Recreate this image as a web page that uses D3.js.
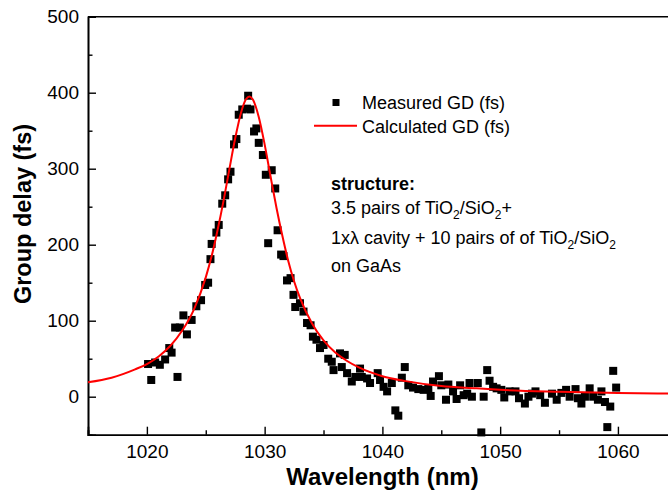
<!DOCTYPE html>
<html>
<head>
<meta charset="utf-8">
<script src="https://cdn.jsdelivr.net/npm/d3@7"></script>
<style>
  html, body { margin: 0; padding: 0; background: #fff; }
  svg { display: block; }
  text { font-family: "Liberation Sans", Arial, sans-serif; fill: #000; }
</style>
</head>
<body>
<svg id="chart" width="668" height="494"></svg>
<script>
// ---- Data ----
const measuredWavelength = [
  1020.1, 1020.37, 1020.7, 1021.1, 1021.55, 1021.9, 1022.1, 1022.4, 1022.6, 1022.8,
  1023.1, 1023.4, 1023.8, 1024.2, 1024.6, 1024.95, 1025.2, 1025.4, 1025.5, 1025.9,
  1026.1, 1026.4, 1026.65, 1026.9, 1027.1, 1027.4, 1027.6, 1027.8, 1028.1, 1028.5,
  1028.6, 1028.8, 1029.1, 1029.3, 1029.5, 1029.85, 1030.1, 1030.3, 1030.6, 1030.9,
  1031.1, 1031.4, 1031.6, 1031.9, 1032.2, 1032.45, 1032.6, 1033.0, 1033.3, 1033.6,
  1033.9, 1034.1, 1034.4, 1034.7, 1035.0, 1035.4, 1035.7, 1035.85, 1036.4, 1036.55,
  1036.8, 1037.0, 1037.4, 1037.7, 1038.1, 1038.25, 1038.7, 1038.95, 1039.6, 1039.8,
  1040.1, 1040.4, 1040.8, 1041.1, 1041.35, 1041.65, 1041.9, 1042.2, 1042.6, 1043.05,
  1043.5, 1043.9, 1044.1, 1044.3, 1044.8, 1045.0, 1045.4, 1045.6, 1046.0, 1046.3,
  1046.6, 1046.9, 1047.2, 1047.4, 1047.6, 1048.1, 1048.4, 1048.6, 1048.9, 1049.1,
  1049.4, 1049.7, 1050.1, 1050.35, 1050.8, 1051.3, 1051.6, 1052.1, 1052.4, 1052.7,
  1053.0, 1053.4, 1053.8, 1054.4, 1054.8, 1055.2, 1055.6, 1055.9, 1056.4, 1056.6,
  1056.9, 1057.2, 1057.6, 1057.9, 1058.3, 1058.6, 1058.9, 1059.1, 1059.35, 1059.6,
  1059.85
];
const measuredGD = [
  43, 22, 45, 42, 49, 64, 58, 91, 26, 91,
  107, 82, 101, 119, 127, 147, 150, 181, 201, 216,
  226, 254, 265, 286, 296, 332, 339, 371, 378, 379,
  396, 378, 349, 353, 334, 318, 292, 202, 298, 274,
  219, 187, 185, 153, 156, 134, 118, 123, 112, 97,
  94, 79, 75, 64, 68, 50, 46, 35, 57, 39,
  55, 31, 20, 26, 37, 26, 24, 18, 31, 22,
  13, 7, 18, -18, -25, 25, 39, 15, 12, 10,
  9, 11, 1, 20, 27, 15, -4, 16, 7, -3,
  15, 2, 4, 18, 0, 18, -47, 0, 35, 21,
  13, 11, 9, -1, 7, 7, -2, -9, 0, 4,
  7, 2, -8, 4, -4, 5, 9, 0, 10, -2,
  -9, 0, 11, 0, -4, 7, -7, -40, -13, 34,
  12
];
const calcWavelength = [
  1015, 1017, 1019, 1020, 1021, 1022, 1023, 1024, 1025, 1025.5,
  1026, 1026.5, 1027, 1027.5, 1028, 1028.4, 1028.7, 1029, 1029.5, 1030,
  1030.5, 1031, 1031.5, 1032, 1032.5, 1033, 1034, 1035, 1036, 1037,
  1038, 1040, 1042, 1045, 1048, 1050, 1055, 1060, 1065
];
const calcGD = [
  19, 25, 36, 43, 53, 67, 87, 115, 157, 185,
  219, 257, 299, 340, 374, 391, 395, 391, 368, 332,
  290, 249, 212, 179, 152, 130, 97, 74, 58, 47,
  38.5, 27, 20.5, 14, 11, 9, 6.5, 5, 4
];
const xMajorTicks = [1020, 1030, 1040, 1050, 1060];
const xMinorTicks = [1015, 1025, 1035, 1045, 1055, 1065];
const yMajorTicks = [0, 100, 200, 300, 400, 500];
const yMinorTicks = [50, 150, 250, 350, 450];
const legendLabels = ["Measured GD (fs)", "Calculated GD (fs)"];
const xTitle = "Wavelength (nm)";
const yTitle = "Group delay (fs)";

// ---- Layout ----
const svg = d3.select("#chart");
const mLeft = 88, mRight = 676.8, mTop = 16.7, mBottom = 434.7;
const x = d3.scaleLinear().domain([1015, 1065]).range([mLeft, mRight]);
const y = d3.scaleLinear().domain([-50, 500]).range([mBottom, mTop]);

const font = "Liberation Sans, Arial, sans-serif";

// Y axis
const yAxis = svg.append("g").attr("transform", `translate(${mLeft},0)`)
  .call(d3.axisLeft(y).tickValues(yMajorTicks).tickSize(-8).tickPadding(9).tickFormat(d3.format("d")));
const yMinor = svg.append("g").attr("transform", `translate(${mLeft},0)`)
  .call(d3.axisLeft(y).tickValues(yMinorTicks).tickSize(-4.5).tickFormat(""));
// X axis
const xAxis = svg.append("g").attr("transform", `translate(0,${mBottom})`)
  .call(d3.axisBottom(x).tickValues(xMajorTicks).tickSize(-8).tickPadding(10).tickFormat(d3.format("d")));
const xMinor = svg.append("g").attr("transform", `translate(0,${mBottom})`)
  .call(d3.axisBottom(x).tickValues(xMinorTicks).tickSize(-4.5).tickFormat(""));

[yAxis, yMinor, xAxis, xMinor].forEach(g => {
  g.select(".domain").attr("stroke", "#000").attr("stroke-width", 1.6);
  g.selectAll(".tick line").attr("stroke", "#000").attr("stroke-width", 1.4);
  g.selectAll(".tick text").attr("font-family", font).attr("font-size", 19).attr("fill", "#000");
});
xAxis.selectAll(".tick text").attr("dy", "0.71em");

// top border
svg.append("line").attr("x1", mLeft).attr("x2", mRight).attr("y1", mTop).attr("y2", mTop)
  .attr("stroke", "#000").attr("stroke-width", 1.6);
svg.append("line").attr("x1", mRight).attr("x2", mRight).attr("y1", mTop).attr("y2", mBottom)
  .attr("stroke", "#000").attr("stroke-width", 1.6);

// Axis titles
svg.append("text").attr("x", (mLeft + mRight) / 2).attr("y", 485)
  .attr("text-anchor", "middle").attr("font-size", 24).attr("font-weight", "bold").text(xTitle);
svg.append("text").attr("transform", "translate(31,214) rotate(-90)")
  .attr("text-anchor", "middle").attr("font-size", 23.5).attr("font-weight", "bold").text(yTitle);

// Measured points
const measured = measuredWavelength.map((w, i) => ({ w, v: measuredGD[i] }));
const ms = 8;
svg.append("g").selectAll("rect").data(measured).join("rect")
  .attr("x", d => x(d.w) - ms / 2).attr("y", d => y(d.v) - ms / 2)
  .attr("width", ms).attr("height", ms).attr("fill", "#000");

// Calculated curve
const calc = calcWavelength.map((w, i) => ({ w, v: calcGD[i] }));
svg.append("path").datum(calc)
  .attr("fill", "none").attr("stroke", "#ff0000").attr("stroke-width", 2)
  .attr("d", d3.line().x(d => x(d.w)).y(d => y(d.v)).curve(d3.curveMonotoneX));

// Legend
const lg = svg.append("g");
lg.append("rect").attr("x", 332.5).attr("y", 99).attr("width", 7).attr("height", 7).attr("fill", "#000");
lg.append("text").attr("x", 362).attr("y", 109).attr("font-size", 18).text(legendLabels[0]);
lg.append("line").attr("x1", 314).attr("x2", 357).attr("y1", 125.7).attr("y2", 125.7)
  .attr("stroke", "#ff0000").attr("stroke-width", 2);
lg.append("text").attr("x", 362).attr("y", 132.5).attr("font-size", 18).text(legendLabels[1]);

// Annotation
const ann = svg.append("g").attr("font-size", 18);
ann.append("text").attr("x", 331).attr("y", 190).attr("font-weight", "bold").text("structure:");
function subText(yPos, parts) {
  const t = ann.append("text").attr("x", 331).attr("y", yPos);
  let shift = 0;
  parts.forEach(p => {
    const ts = t.append("tspan").text(p.s);
    if (p.sub) {
      ts.attr("font-size", 12).attr("dy", 5);
      shift = 5;
    } else if (shift) {
      ts.attr("dy", -shift);
      shift = 0;
    }
  });
}
subText(214, [{s: "3.5 pairs of TiO"}, {s: "2", sub: true}, {s: "/SiO"}, {s: "2", sub: true}, {s: "+"}]);
subText(243.5, [{s: "1x\u03BB cavity + 10 pairs of of TiO"}, {s: "2", sub: true}, {s: "/SiO"}, {s: "2", sub: true}]);
subText(272, [{s: "on GaAs"}]);
</script>
</body>
</html>
